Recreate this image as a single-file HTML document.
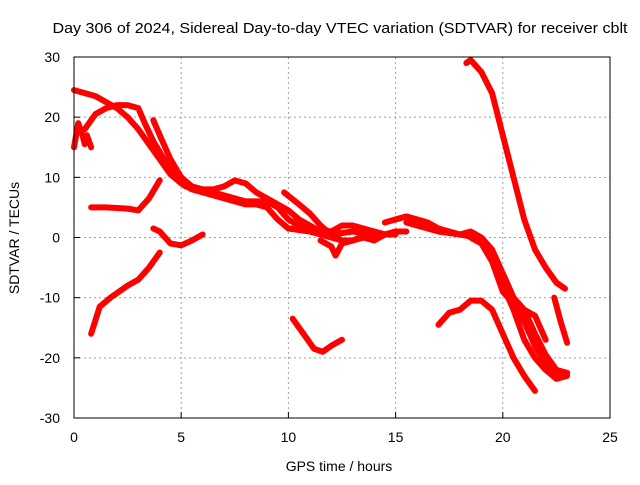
<!DOCTYPE html>
<html><head><meta charset="utf-8"><style>
body{margin:0;background:#fff}
svg{font-family:"Liberation Sans",sans-serif}
</style></head><body>
<svg id="c" width="640" height="480" viewBox="0 0 640 480">
<text x="340" y="33" font-size="15" text-anchor="middle" textLength="575" lengthAdjust="spacingAndGlyphs">Day 306 of 2024, Sidereal Day-to-day VTEC variation (SDTVAR) for receiver cblt</text>
<text x="339" y="471" font-size="14" text-anchor="middle">GPS time / hours</text>
<text transform="translate(19,238) rotate(-90)" font-size="14" text-anchor="middle">SDTVAR / TECUs</text>
<g id="grid"></g><g id="series"></g>
<rect x="74" y="57" width="536" height="361" fill="none" stroke="#000" stroke-width="1"/>
</svg>
<script>
const xTicks=[0,5,10,15,20,25];
const yTicks=[-30,-20,-10,0,10,20,30];
const t1=[[0,24.5],[0.5,24],[1,23.5],[1.5,22.5],[2,21.5],[2.5,20],[3,18],[3.5,15.5],[4,13],[4.5,10.5],[5,9],[5.5,8],[6,7.5],[6.5,7],[7,6.5],[7.5,6],[8,5.5],[8.5,5.5],[9,5],[9.5,3],[10,1.5],[11,1],[12,0],[12.5,-0.5]];
const t2=[[0.5,18],[1,20.5],[1.5,21.5],[2,22],[2.5,22],[3,21.5],[3.3,19],[3.7,16],[4.2,13],[4.7,10],[5.2,8.5],[6,8],[6.5,8],[7,8.5],[7.5,9.5],[8,9],[8.5,7.5],[9,6.5],[9.5,5.5],[10,4.5],[10.5,3],[11,2],[11.5,1],[12,0]];
const t3=[[3.7,19.5],[4,17],[4.5,13],[5,10],[5.5,8.5],[6,8],[7,7],[8,6],[9,6],[9.5,5],[10,3],[10.5,2],[11,1],[12,0.5],[13,1],[14,0.5],[14.5,0.5],[15,1],[15.5,1]];
const t4=[[0,15],[0.1,17],[0.2,19],[0.3,18],[0.4,17],[0.5,15.5],[0.6,17],[0.8,15]];
const t5=[[0.8,5],[1.5,5],[2.5,4.8],[3,4.5],[3.5,6.5],[4,9.5]];
const t6=[[3.7,1.5],[4,1],[4.5,-1],[5,-1.3],[5.5,-0.5],[6,0.5]];
const t7=[[0.8,-16],[1.2,-11.5],[1.7,-10],[2.5,-8],[3,-7],[3.5,-5],[4,-2.5]];
const t8=[[9.8,7.5],[10.5,5.5],[11,4],[11.5,2],[12,0.5],[12.5,-0.5],[13,-0.5],[13.5,0],[14,-0.5],[14.5,0.5],[15,0.5]];
const t9=[[11.5,-0.5],[12,-1.5],[12.2,-3],[12.5,-1],[13,-0.5],[14,1],[14.5,0.5],[15,1]];
const t10=[[10,1.5],[11,1.5],[12,1],[12.5,2],[13,2],[14,1],[14.5,0.5]];
const t11=[[14.5,2.5],[15,3],[15.5,3.5],[16,3],[16.5,2.5],[17,1.5],[17.5,1],[18,0.5],[18.5,1],[19,0],[19.5,-2],[20,-6],[20.5,-10],[21,-14],[21.5,-18],[22,-21],[22.5,-22.5],[23,-22.5]];
const t12=[[15.5,2.5],[16,2],[17,1],[18,0.5],[18.7,0],[19.2,-1],[19.5,-3],[20,-8],[20.5,-12],[21,-17],[21.5,-20],[22,-22],[22.5,-23.5],[23,-23]];
const t13=[[18.3,29],[18.5,29.5],[19,27.5],[19.5,24],[20,17],[20.5,10],[21,3],[21.5,-2],[22,-5],[22.5,-7.5],[22.9,-8.5]];
const t14=[[17,-14.5],[17.5,-12.5],[18,-12],[18.5,-10.5],[19,-10.5],[19.5,-12],[20,-16],[20.5,-20],[21,-23],[21.5,-25.5]];
const t15=[[18.5,0],[19,-1],[19.5,-4],[20,-9],[20.5,-11],[21,-12],[21.5,-16],[22,-19.5],[22.5,-22],[23,-22.5]];
const t16=[[22.4,-10],[22.7,-14],[23,-17.5]];
const t17=[[10.2,-13.5],[10.7,-16],[11.2,-18.5],[11.6,-19],[12,-18],[12.5,-17]];
const t18=[[20,-6],[20.5,-10],[21,-12],[21.5,-13],[22,-17]];
const tracks=[t1,t2,t3,t4,t5,t6,t7,t8,t9,t10,t11,t12,t13,t14,t15,t16,t17,t18];
const X=h=>74+h*(536/25), Y=v=>418-(v+30)*(361/60);
const NS="http://www.w3.org/2000/svg";
const g=document.getElementById('grid'), s=document.getElementById('series');
function mk(tag,at,parent){const e=document.createElementNS(NS,tag);for(const k in at)e.setAttribute(k,at[k]);parent.appendChild(e);return e;}
xTicks.forEach(t=>{
 const x=X(t);
 if(t>0&&t<25){const l=mk('line',{x1:x,x2:x,y1:57,y2:418,stroke:'#a0a0a0','stroke-dasharray':'2,3'},g);
 
 }
 const tk=mk('line',{x1:x,x2:x,y1:418,y2:412,stroke:'#000'},g);
 
 
 const tx=mk('text',{x:x,y:442,'font-size':14,'text-anchor':'middle'},g);tx.textContent=t;
 
 
});
yTicks.forEach(t=>{
 const y=Y(t);
 if(t>-30&&t<30){const l=mk('line',{x1:74,x2:610,y1:y,y2:y,stroke:'#a0a0a0','stroke-dasharray':'2,3'},g);
 
 }
 const tk=mk('line',{x1:74,x2:80,y1:y,y2:y,stroke:'#000'},g);
 
 
 const tx=mk('text',{x:60,y:y+5,'font-size':14,'text-anchor':'end'},g);tx.textContent=t;
 
 
});
tracks.forEach((tr,i)=>{
 const p=mk('polyline',{points:tr.map(d=>X(d[0])+','+Y(d[1])).join(' '),fill:'none',stroke:'#ff0000','stroke-width':6,'stroke-linejoin':'round','stroke-linecap':'round'},s);
 
 
});
</script>
</body></html>
